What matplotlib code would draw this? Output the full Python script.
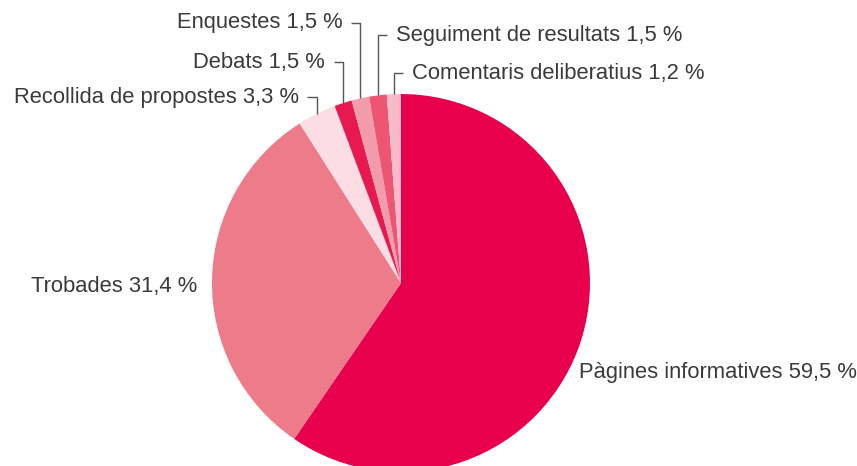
import numpy as np
import matplotlib

matplotlib.use("Agg")
import matplotlib.pyplot as plt  # noqa: E402

# slices, clockwise from 12 o'clock
LABELS = [
    "Pàgines informatives",
    "Trobades",
    "Recollida de propostes",
    "Debats",
    "Enquestes",
    "Seguiment de resultats",
    "Comentaris deliberatius",
]
VALUES = [59.5, 31.4, 3.3, 1.5, 1.5, 1.5, 1.2]
VALUE_TEXT = ["59,5", "31,4", "3,3", "1,5", "1,5", "1,5", "1,2"]
COLORS = ["#E8004C", "#EE7B8A", "#FCDDE3", "#E8194F", "#F29CAB", "#EE5572", "#F7BCC8"]

TEXT_COLOR = "#3a3a3a"
LINE_COLOR = "#555555"
FONT = "Liberation Sans"
FS = 15.8

W, H = 857, 466
CX, CY, R = 401, 283, 189  # pixel centre and radius of the pie

fig = plt.figure(figsize=(W / 100, H / 100), dpi=100)
ax = fig.add_axes([0, 0, 1, 1])

wedges, _ = ax.pie(
    VALUES,
    colors=COLORS,
    startangle=90,
    counterclock=False,
    radius=1.0,
    wedgeprops={"linewidth": 0},
)
ax.set_xlim(-CX / R, (W - CX) / R)
ax.set_ylim(-(H - CY) / R, CY / R)
ax.set_aspect("equal")
ax.axis("off")

txt = dict(fontsize=FS, color=TEXT_COLOR, family=FONT, va="center")

# big slices: plain labels
ax.text(-1.08, -0.016, f"{LABELS[1]} {VALUE_TEXT[1]} %", ha="right", **txt)
ax.text(0.94, -0.476, f"{LABELS[0]} {VALUE_TEXT[0]} %", ha="left", **txt)

# small slices: bracket leaders (label y in data units, side of the hook)
small = {
    2: (0.984, "left"),
    3: (1.169, "left"),
    4: (1.376, "left"),
    5: (1.312, "right"),
    6: (1.111, "right"),
}
hook = 0.05
gap = 0.045
for i, (ly, side) in small.items():
    w = wedges[i]
    mid = np.deg2rad((w.theta1 + w.theta2) / 2)
    x0, y0 = np.cos(mid), np.sin(mid)
    if side == "left":
        xs = [x0, x0, x0 - hook]
        tx, ha = x0 - hook - gap, "right"
    else:
        xs = [x0, x0, x0 + hook]
        tx, ha = x0 + hook + gap, "left"
    ax.plot(xs, [y0, ly, ly], color=LINE_COLOR, lw=1.0, solid_capstyle="butt")
    ax.text(tx, ly, f"{LABELS[i]} {VALUE_TEXT[i]} %", ha=ha, **txt)

fig.savefig("out.png", dpi=100)
